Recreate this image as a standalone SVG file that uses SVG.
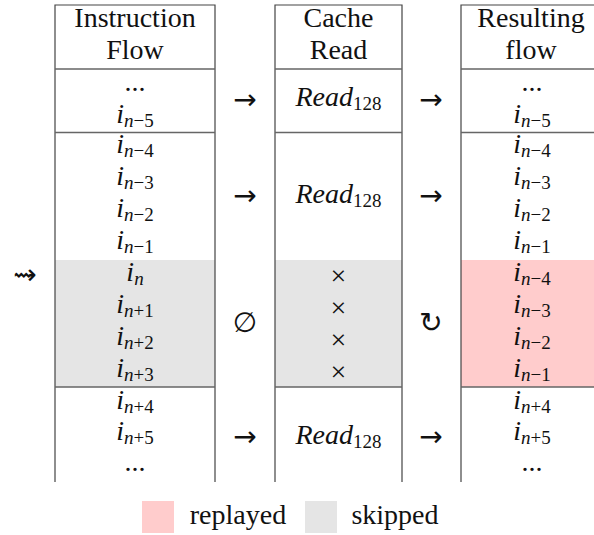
<svg xmlns="http://www.w3.org/2000/svg" width="594" height="535" viewBox="0 0 594 535">
<defs>
<rect id="swatch" width="32" height="32"/>
</defs>
<rect width="594" height="535" fill="#fff"/>
<g id="col-instruction">
<rect fill="#e5e5e5" x="55" y="260" width="160" height="127"/>
<path stroke="#444" stroke-width="1.2" fill="none" d="M55,482V5H215V482"/>
<path stroke="#666" stroke-width="1.5" fill="none" d="M55,69H215M55,132.5H215M55,387H215"/>
<text x="135" y="27" font-size="28" font-family="Times New Roman, Liberation Serif, serif" text-anchor="middle" fill="#111">Instruction</text>
<text x="135" y="59" font-size="28" font-family="Times New Roman, Liberation Serif, serif" text-anchor="middle" fill="#111">Flow</text>
<text x="135" y="91" font-size="28" font-family="Times New Roman, Liberation Serif, serif" text-anchor="middle" fill="#111">...</text>
<text x="135" y="123" font-size="28" font-family="Times New Roman, Liberation Serif, serif" text-anchor="middle" fill="#111"><tspan font-style="italic">i</tspan><tspan font-size="19" dy="4"><tspan font-style="italic">n</tspan>−5</tspan></text>
<text x="135" y="153" font-size="28" font-family="Times New Roman, Liberation Serif, serif" text-anchor="middle" fill="#111"><tspan font-style="italic">i</tspan><tspan font-size="19" dy="4"><tspan font-style="italic">n</tspan>−4</tspan></text>
<text x="135" y="185" font-size="28" font-family="Times New Roman, Liberation Serif, serif" text-anchor="middle" fill="#111"><tspan font-style="italic">i</tspan><tspan font-size="19" dy="4"><tspan font-style="italic">n</tspan>−3</tspan></text>
<text x="135" y="217" font-size="28" font-family="Times New Roman, Liberation Serif, serif" text-anchor="middle" fill="#111"><tspan font-style="italic">i</tspan><tspan font-size="19" dy="4"><tspan font-style="italic">n</tspan>−2</tspan></text>
<text x="135" y="249" font-size="28" font-family="Times New Roman, Liberation Serif, serif" text-anchor="middle" fill="#111"><tspan font-style="italic">i</tspan><tspan font-size="19" dy="4"><tspan font-style="italic">n</tspan>−1</tspan></text>
<text x="135" y="281" font-size="28" font-family="Times New Roman, Liberation Serif, serif" text-anchor="middle" fill="#111"><tspan font-style="italic">i</tspan><tspan font-size="19" font-style="italic" dy="4">n</tspan></text>
<text x="135" y="313" font-size="28" font-family="Times New Roman, Liberation Serif, serif" text-anchor="middle" fill="#111"><tspan font-style="italic">i</tspan><tspan font-size="19" dy="4"><tspan font-style="italic">n</tspan>+1</tspan></text>
<text x="135" y="345" font-size="28" font-family="Times New Roman, Liberation Serif, serif" text-anchor="middle" fill="#111"><tspan font-style="italic">i</tspan><tspan font-size="19" dy="4"><tspan font-style="italic">n</tspan>+2</tspan></text>
<text x="135" y="377" font-size="28" font-family="Times New Roman, Liberation Serif, serif" text-anchor="middle" fill="#111"><tspan font-style="italic">i</tspan><tspan font-size="19" dy="4"><tspan font-style="italic">n</tspan>+3</tspan></text>
<text x="135" y="409" font-size="28" font-family="Times New Roman, Liberation Serif, serif" text-anchor="middle" fill="#111"><tspan font-style="italic">i</tspan><tspan font-size="19" dy="4"><tspan font-style="italic">n</tspan>+4</tspan></text>
<text x="135" y="440" font-size="28" font-family="Times New Roman, Liberation Serif, serif" text-anchor="middle" fill="#111"><tspan font-style="italic">i</tspan><tspan font-size="19" dy="4"><tspan font-style="italic">n</tspan>+5</tspan></text>
<text x="135" y="471" font-size="28" font-family="Times New Roman, Liberation Serif, serif" text-anchor="middle" fill="#111">...</text>
</g>
<g id="col-cache">
<rect fill="#e5e5e5" x="275" y="260" width="127" height="127"/>
<path stroke="#444" stroke-width="1.2" fill="none" d="M275,482V5H402V482"/>
<path stroke="#666" stroke-width="1.5" fill="none" d="M275,69H402M275,132.5H402M275,387H402"/>
<text x="338.5" y="27" font-size="28" font-family="Times New Roman, Liberation Serif, serif" text-anchor="middle" fill="#111">Cache</text>
<text x="338.5" y="59" font-size="28" font-family="Times New Roman, Liberation Serif, serif" text-anchor="middle" fill="#111">Read</text>
<text x="338.5" y="106" font-size="28" font-family="Times New Roman, Liberation Serif, serif" text-anchor="middle" fill="#111"><tspan font-style="italic">Read</tspan><tspan font-size="19" dy="4">128</tspan></text>
<text x="338.5" y="203" font-size="28" font-family="Times New Roman, Liberation Serif, serif" text-anchor="middle" fill="#111"><tspan font-style="italic">Read</tspan><tspan font-size="19" dy="4">128</tspan></text>
<text x="338.5" y="285" font-size="28" font-family="Times New Roman, Liberation Serif, serif" text-anchor="middle" fill="#111">×</text>
<text x="338.5" y="317" font-size="28" font-family="Times New Roman, Liberation Serif, serif" text-anchor="middle" fill="#111">×</text>
<text x="338.5" y="349" font-size="28" font-family="Times New Roman, Liberation Serif, serif" text-anchor="middle" fill="#111">×</text>
<text x="338.5" y="381" font-size="28" font-family="Times New Roman, Liberation Serif, serif" text-anchor="middle" fill="#111">×</text>
<text x="338.5" y="444" font-size="28" font-family="Times New Roman, Liberation Serif, serif" text-anchor="middle" fill="#111"><tspan font-style="italic">Read</tspan><tspan font-size="19" dy="4">128</tspan></text>
</g>
<g id="col-result">
<rect fill="#ffcccc" x="461" y="260" width="133" height="127"/>
<path stroke="#444" stroke-width="1.2" fill="none" d="M461,482V5H594"/>
<path stroke="#666" stroke-width="1.5" fill="none" d="M461,69H594M461,132.5H594M461,387H594"/>
<text x="531" y="27" font-size="28" font-family="Times New Roman, Liberation Serif, serif" text-anchor="middle" fill="#111">Resulting</text>
<text x="531" y="59" font-size="28" font-family="Times New Roman, Liberation Serif, serif" text-anchor="middle" fill="#111">flow</text>
<text x="532" y="91" font-size="28" font-family="Times New Roman, Liberation Serif, serif" text-anchor="middle" fill="#111">...</text>
<text x="532" y="123" font-size="28" font-family="Times New Roman, Liberation Serif, serif" text-anchor="middle" fill="#111"><tspan font-style="italic">i</tspan><tspan font-size="19" dy="4"><tspan font-style="italic">n</tspan>−5</tspan></text>
<text x="532" y="153" font-size="28" font-family="Times New Roman, Liberation Serif, serif" text-anchor="middle" fill="#111"><tspan font-style="italic">i</tspan><tspan font-size="19" dy="4"><tspan font-style="italic">n</tspan>−4</tspan></text>
<text x="532" y="185" font-size="28" font-family="Times New Roman, Liberation Serif, serif" text-anchor="middle" fill="#111"><tspan font-style="italic">i</tspan><tspan font-size="19" dy="4"><tspan font-style="italic">n</tspan>−3</tspan></text>
<text x="532" y="217" font-size="28" font-family="Times New Roman, Liberation Serif, serif" text-anchor="middle" fill="#111"><tspan font-style="italic">i</tspan><tspan font-size="19" dy="4"><tspan font-style="italic">n</tspan>−2</tspan></text>
<text x="532" y="249" font-size="28" font-family="Times New Roman, Liberation Serif, serif" text-anchor="middle" fill="#111"><tspan font-style="italic">i</tspan><tspan font-size="19" dy="4"><tspan font-style="italic">n</tspan>−1</tspan></text>
<text x="532" y="281" font-size="28" font-family="Times New Roman, Liberation Serif, serif" text-anchor="middle" fill="#111"><tspan font-style="italic">i</tspan><tspan font-size="19" dy="4"><tspan font-style="italic">n</tspan>−4</tspan></text>
<text x="532" y="313" font-size="28" font-family="Times New Roman, Liberation Serif, serif" text-anchor="middle" fill="#111"><tspan font-style="italic">i</tspan><tspan font-size="19" dy="4"><tspan font-style="italic">n</tspan>−3</tspan></text>
<text x="532" y="345" font-size="28" font-family="Times New Roman, Liberation Serif, serif" text-anchor="middle" fill="#111"><tspan font-style="italic">i</tspan><tspan font-size="19" dy="4"><tspan font-style="italic">n</tspan>−2</tspan></text>
<text x="532" y="377" font-size="28" font-family="Times New Roman, Liberation Serif, serif" text-anchor="middle" fill="#111"><tspan font-style="italic">i</tspan><tspan font-size="19" dy="4"><tspan font-style="italic">n</tspan>−1</tspan></text>
<text x="532" y="409" font-size="28" font-family="Times New Roman, Liberation Serif, serif" text-anchor="middle" fill="#111"><tspan font-style="italic">i</tspan><tspan font-size="19" dy="4"><tspan font-style="italic">n</tspan>+4</tspan></text>
<text x="532" y="440" font-size="28" font-family="Times New Roman, Liberation Serif, serif" text-anchor="middle" fill="#111"><tspan font-style="italic">i</tspan><tspan font-size="19" dy="4"><tspan font-style="italic">n</tspan>+5</tspan></text>
<text x="532" y="471" font-size="28" font-family="Times New Roman, Liberation Serif, serif" text-anchor="middle" fill="#111">...</text>
</g>
<g id="connectors">
<text x="245" y="109" font-size="28" font-family="DejaVu Sans, sans-serif" text-anchor="middle" fill="#111">→</text>
<text x="245" y="205" font-size="28" font-family="DejaVu Sans, sans-serif" text-anchor="middle" fill="#111">→</text>
<text x="245" y="332" font-size="28" font-family="DejaVu Sans, sans-serif" text-anchor="middle" fill="#111">∅</text>
<text x="245" y="446" font-size="28" font-family="DejaVu Sans, sans-serif" text-anchor="middle" fill="#111">→</text>
<text x="431" y="109" font-size="28" font-family="DejaVu Sans, sans-serif" text-anchor="middle" fill="#111">→</text>
<text x="431" y="205" font-size="28" font-family="DejaVu Sans, sans-serif" text-anchor="middle" fill="#111">→</text>
<text x="431" y="332" font-size="28" font-family="DejaVu Sans, sans-serif" text-anchor="middle" fill="#111">↻</text>
<text x="431" y="446" font-size="28" font-family="DejaVu Sans, sans-serif" text-anchor="middle" fill="#111">→</text>
<text x="25" y="284" font-size="28" font-family="DejaVu Sans, sans-serif" text-anchor="middle" fill="#111">⇝</text>
</g>
<g id="legend">
<use href="#swatch" x="142" y="501" fill="#ffcccc"/>
<use href="#swatch" x="305" y="501" fill="#e5e5e5"/>
<text x="238" y="524" font-size="28" font-family="Times New Roman, Liberation Serif, serif" text-anchor="middle" fill="#111">replayed</text>
<text x="395" y="524" font-size="28" font-family="Times New Roman, Liberation Serif, serif" text-anchor="middle" fill="#111">skipped</text>
</g>
</svg>
